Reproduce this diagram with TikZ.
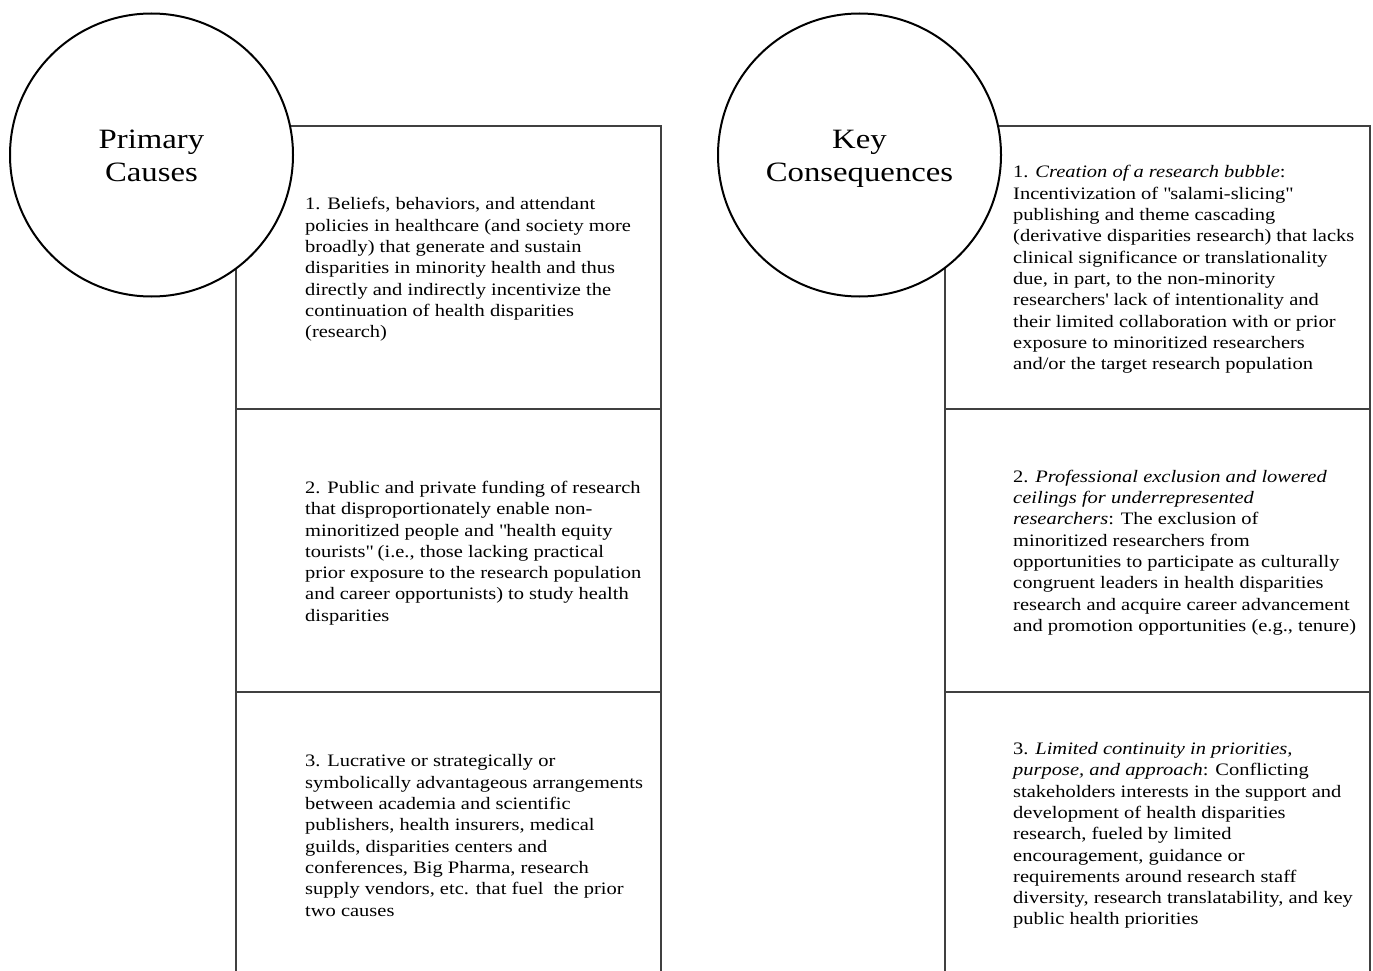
\documentclass[tikz,border=0pt]{standalone}
\usepackage{fontspec}
\setmainfont{Liberation Serif}[FakeStretch=1.17]
\usetikzlibrary{positioning,calc}

\definecolor{boxline}{RGB}{64,64,64}

\begin{document}
\begin{tikzpicture}[x=1pt,y=-1pt,
	box/.style={draw=boxline, line width=2pt, minimum width=425pt, minimum height=283pt, outer sep=0pt, inner sep=0pt},
	head/.style={draw, line width=2pt, circle, fill=white, minimum size=283pt, inner sep=0pt, align=center, font=\fontsize{28}{33}\selectfont},
	txt/.style={anchor=west, align=left, inner sep=0pt, font=\fontsize{17.5}{21.3}\selectfont}]

% frame %{{{2

	\clip (0,0) rectangle (1373,971);

% boxes, causes %{{{2

	\node[box] (c1) at (448.5,267.5) {};
	\node[box, below=0pt of c1] (c2) {};
	\node[box, below=0pt of c2] (c3) {};

% boxes, consequences %{{{2

	\node[box] (k1) at (1157.5,267.5) {};
	\node[box, below=0pt of k1] (k2) {};
	\node[box, below=0pt of k2] (k3) {};

% texts, causes %{{{2

	\node[txt] (c1t) at ($(c1.west)+(69,2)$) {1. Beliefs, behaviors, and attendant\\
		policies in healthcare (and society more\\
		broadly) that generate and sustain\\
		disparities in minority health and thus\\
		directly and indirectly incentivize the\\
		continuation of health disparities\\
		(research)};

	\node[txt] (c2t) at ($(c2.west)+(69,2.5)$) {2. Public and private funding of research\\
		that disproportionately enable non-\\
		minoritized people and \textquotedbl health equity\\
		tourists\textquotedbl{} (i.e., those lacking practical\\
		prior exposure to the research population\\
		and career opportunists) to study health\\
		disparities};

	\node[txt] (c3t) at ($(c3.west)+(69,2)$) {3. Lucrative or strategically or\\
		symbolically advantageous arrangements\\
		between academia and scientific\\
		publishers, health insurers, medical\\
		guilds, disparities centers and\\
		conferences, Big Pharma, research\\
		supply vendors, etc. that fuel\ \ the prior\\
		two causes};

% texts, consequences %{{{2

	\node[txt] (k1t) at ($(k1.west)+(68,2)$) {1. \textit{Creation of a research bubble}:\\
		Incentivization of \textquotedbl salami-slicing\textquotedbl\\
		publishing and theme cascading\\
		(derivative disparities research) that lacks\\
		clinical significance or translationality\\
		due, in part, to the non-minority\\
		researchers\textquotesingle{} lack of intentionality and\\
		their limited collaboration with or prior\\
		exposure to minoritized researchers\\
		and/or the target research population};

	\node[txt] (k2t) at ($(k2.west)+(68,2)$) {2. \textit{Professional exclusion and lowered}\\
		\textit{ceilings for underrepresented}\\
		\textit{researchers}: The exclusion of\\
		minoritized researchers from\\
		opportunities to participate as culturally\\
		congruent leaders in health disparities\\
		research and acquire career advancement\\
		and promotion opportunities (e.g., tenure)};

	\node[txt] (k3t) at ($(k3.west)+(68,2)$) {3. \textit{Limited continuity in priorities,}\\
		\textit{purpose, and approach}: Conflicting\\
		stakeholders interests in the support and\\
		development of health disparities\\
		research, fueled by limited\\
		encouragement, guidance or\\
		requirements around research staff\\
		diversity, research translatability, and key\\
		public health priorities};

% circles %{{{2

	\node[head] (pc) at (151.5,155) {\rule{0pt}{29pt}Primary\\Causes\strut};
	\node[head] (kc) at (859.5,155) {\rule{0pt}{29pt}Key\\Consequences\strut};

\end{tikzpicture}
\end{document}
